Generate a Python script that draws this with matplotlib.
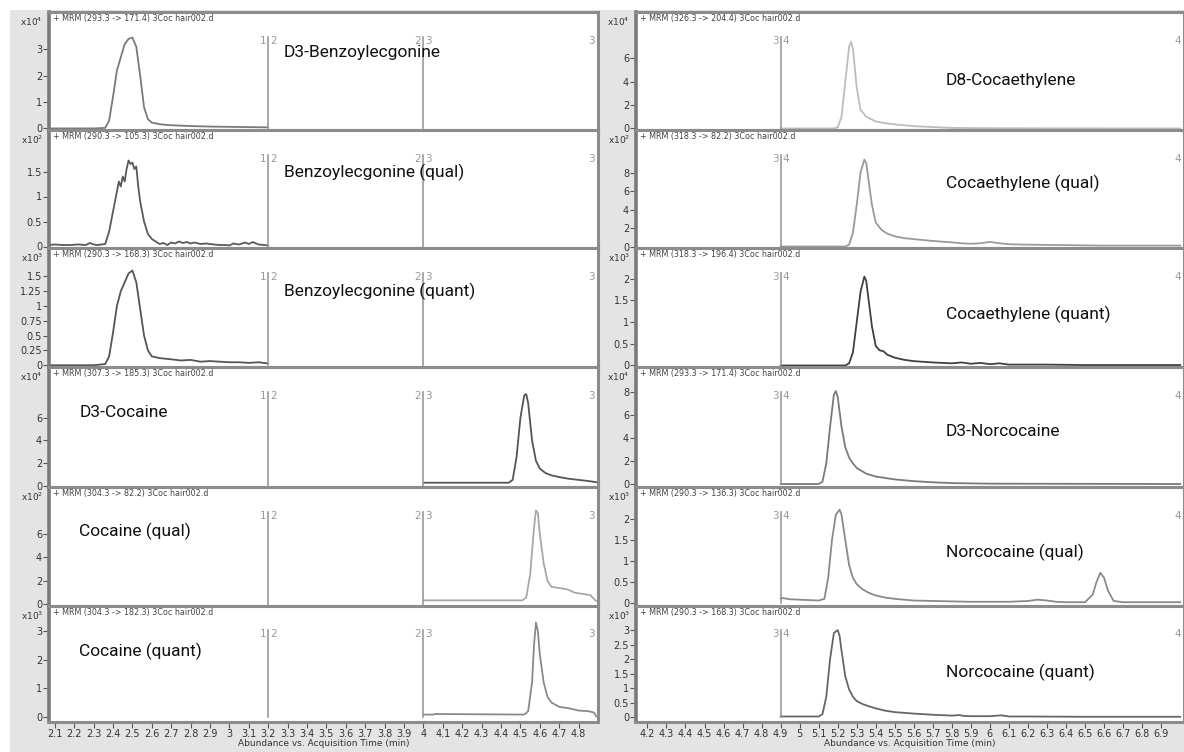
import matplotlib
matplotlib.use('Agg')
import matplotlib.pyplot as plt
from matplotlib.patches import Rectangle

# ---------------- data ----------------
left_xticks = [2.1, 2.2, 2.3, 2.4, 2.5, 2.6, 2.7, 2.8, 2.9, 3.0, 3.1, 3.2, 3.3, 3.4,
               3.5, 3.6, 3.7, 3.8, 3.9, 4.0, 4.1, 4.2, 4.3, 4.4, 4.5, 4.6, 4.7, 4.8]
right_xticks = [4.2, 4.3, 4.4, 4.5, 4.6, 4.7, 4.8, 4.9, 5.0, 5.1, 5.2, 5.3, 5.4, 5.5,
                5.6, 5.7, 5.8, 5.9, 6.0, 6.1, 6.2, 6.3, 6.4, 6.5, 6.6, 6.7, 6.8, 6.9]
xlabel = "Abundance vs. Acquisition Time (min)"

left_names = ["D3-Benzoylecgonine", "Benzoylecgonine (qual)", "Benzoylecgonine (quant)",
              "D3-Cocaine", "Cocaine (qual)", "Cocaine (quant)"]
right_names = ["D8-Cocaethylene", "Cocaethylene (qual)", "Cocaethylene (quant)",
               "D3-Norcocaine", "Norcocaine (qual)", "Norcocaine (quant)"]

left_headers = ["+ MRM (293.3 -> 171.4) 3Coc hair002.d", "+ MRM (290.3 -> 105.3) 3Coc hair002.d",
                "+ MRM (290.3 -> 168.3) 3Coc hair002.d", "+ MRM (307.3 -> 185.3) 3Coc hair002.d",
                "+ MRM (304.3 -> 82.2) 3Coc hair002.d", "+ MRM (304.3 -> 182.3) 3Coc hair002.d"]
right_headers = ["+ MRM (326.3 -> 204.4) 3Coc hair002.d", "+ MRM (318.3 -> 82.2) 3Coc hair002.d",
                 "+ MRM (318.3 -> 196.4) 3Coc hair002.d", "+ MRM (293.3 -> 171.4) 3Coc hair002.d",
                 "+ MRM (290.3 -> 136.3) 3Coc hair002.d", "+ MRM (290.3 -> 168.3) 3Coc hair002.d"]

left_exps = [4, 2, 3, 4, 2, 3]
right_exps = [4, 2, 3, 4, 3, 3]

left_yticks = [[0, 1, 2, 3], [0, 0.5, 1, 1.5], [0, 0.25, 0.5, 0.75, 1, 1.25, 1.5],
               [0, 2, 4, 6], [0, 2, 4, 6], [0, 1, 2, 3]]
right_yticks = [[0, 2, 4, 6], [0, 2, 4, 6, 8], [0, 0.5, 1, 1.5, 2],
                [0, 2, 4, 6, 8], [0, 0.5, 1, 1.5, 2], [0, 0.5, 1, 1.5, 2, 2.5, 3]]

left_ylims = [(-0.06, 4.42), (-0.03, 2.33), (-0.03, 1.98), (-0.13, 10.5), (-0.13, 10.0), (-0.18, 3.88)]
right_ylims = [(-0.13, 9.95), (-0.16, 12.6), (-0.035, 2.71), (-0.26, 10.2), (-0.07, 2.76), (-0.17, 3.83)]

left_seg_bounds = [3.2, 4.0]
left_seg_labels = [("1", "2"), ("2", "3")]
left_end_label = "3"
right_seg_bounds = [4.9]
right_seg_labels = [("3", "4")]
right_end_label = "4"

# traces (time in min, abundance in units of the panel's x10^n)
be_d3_t = [2.07, 2.30, 2.36, 2.38, 2.40, 2.42, 2.44, 2.46, 2.48, 2.50, 2.52, 2.54, 2.56, 2.58,
           2.60, 2.65, 2.70, 2.80, 2.90, 3.00, 3.10, 3.20]
be_d3_v = [0.00, 0.00, 0.02, 0.30, 1.20, 2.20, 2.70, 3.20, 3.40, 3.45, 3.10, 2.00, 0.80, 0.35,
           0.22, 0.15, 0.12, 0.09, 0.07, 0.06, 0.05, 0.04]

be_qual_t = [2.07, 2.10, 2.14, 2.18, 2.22, 2.26, 2.28, 2.30, 2.32, 2.36, 2.38, 2.40, 2.42, 2.43,
             2.44, 2.45, 2.46, 2.47, 2.48, 2.49, 2.50, 2.51, 2.52, 2.53, 2.54, 2.56, 2.58, 2.60,
             2.62, 2.64, 2.66, 2.68, 2.70, 2.72, 2.74, 2.76, 2.78, 2.80, 2.82, 2.85, 2.88, 2.92,
             2.95, 2.98, 3.00, 3.02, 3.05, 3.08, 3.10, 3.12, 3.15, 3.18, 3.20]
be_qual_v = [0.03, 0.04, 0.03, 0.03, 0.04, 0.03, 0.07, 0.04, 0.03, 0.05, 0.30, 0.70, 1.10, 1.30,
             1.20, 1.40, 1.30, 1.55, 1.72, 1.65, 1.68, 1.55, 1.60, 1.20, 0.90, 0.50, 0.25, 0.15,
             0.10, 0.05, 0.07, 0.03, 0.08, 0.06, 0.10, 0.07, 0.09, 0.06, 0.08, 0.05, 0.06, 0.04,
             0.03, 0.03, 0.02, 0.06, 0.04, 0.08, 0.05, 0.09, 0.04, 0.03, 0.02]

be_quant_t = [2.07, 2.30, 2.36, 2.38, 2.40, 2.42, 2.44, 2.46, 2.48, 2.50, 2.52, 2.54, 2.56, 2.58,
              2.60, 2.64, 2.70, 2.75, 2.80, 2.85, 2.90, 2.95, 3.00, 3.05, 3.10, 3.15, 3.20]
be_quant_v = [0.00, 0.00, 0.02, 0.15, 0.55, 1.00, 1.25, 1.40, 1.55, 1.60, 1.40, 0.95, 0.50, 0.25,
              0.15, 0.12, 0.10, 0.08, 0.09, 0.06, 0.07, 0.06, 0.05, 0.05, 0.04, 0.05, 0.03]

coc_d3_t = [4.00, 4.44, 4.46, 4.48, 4.50, 4.52, 4.53, 4.54, 4.56, 4.58, 4.60, 4.63, 4.66, 4.70,
            4.75, 4.80, 4.85, 4.89]
coc_d3_v = [0.25, 0.25, 0.50, 2.50, 6.00, 8.00, 8.10, 7.30, 4.00, 2.20, 1.50, 1.10, 0.90, 0.75,
            0.60, 0.50, 0.40, 0.30]

coc_qual_t = [4.00, 4.51, 4.53, 4.55, 4.57, 4.58, 4.59, 4.60, 4.62, 4.64, 4.66, 4.70, 4.74, 4.78,
              4.82, 4.86, 4.89]
coc_qual_v = [0.35, 0.35, 0.60, 2.50, 6.50, 8.00, 7.80, 6.00, 3.50, 2.00, 1.50, 1.40, 1.30, 1.00,
              0.90, 0.80, 0.30]

coc_quant_t = [4.00, 4.05, 4.06, 4.52, 4.54, 4.56, 4.57, 4.58, 4.59, 4.60, 4.62, 4.64, 4.66, 4.70,
               4.75, 4.80, 4.85, 4.88, 4.89]
coc_quant_v = [0.08, 0.08, 0.10, 0.08, 0.20, 1.20, 2.50, 3.30, 3.00, 2.20, 1.20, 0.70, 0.50, 0.35,
               0.30, 0.22, 0.20, 0.15, 0.02]

ce_d8_t = [4.90, 5.18, 5.20, 5.22, 5.24, 5.26, 5.27, 5.28, 5.30, 5.32, 5.35, 5.40, 5.45, 5.50,
           5.60, 5.70, 5.80, 6.00, 7.00]
ce_d8_v = [0.00, 0.00, 0.10, 1.00, 4.00, 7.00, 7.40, 6.80, 3.50, 1.60, 1.00, 0.60, 0.45, 0.35,
           0.20, 0.12, 0.05, 0.02, 0.00]

ce_qual_t = [4.90, 5.24, 5.26, 5.28, 5.30, 5.32, 5.34, 5.35, 5.36, 5.38, 5.40, 5.43, 5.46, 5.50,
             5.55, 5.60, 5.70, 5.80, 5.85, 5.90, 5.95, 6.00, 6.05, 6.10, 6.20, 6.40, 6.60, 6.80, 7.00]
ce_qual_v = [0.00, 0.00, 0.20, 1.50, 4.50, 8.00, 9.40, 9.00, 7.50, 4.50, 2.60, 1.80, 1.40, 1.10,
             0.90, 0.80, 0.60, 0.45, 0.35, 0.30, 0.35, 0.50, 0.35, 0.25, 0.20, 0.15, 0.10, 0.10, 0.10]

ce_quant_t = [4.90, 5.24, 5.26, 5.28, 5.30, 5.32, 5.34, 5.35, 5.36, 5.38, 5.40, 5.42, 5.44, 5.46,
              5.50, 5.55, 5.60, 5.70, 5.80, 5.85, 5.90, 5.95, 6.00, 6.05, 6.10, 6.30, 6.50, 7.00]
ce_quant_v = [0.00, 0.00, 0.05, 0.30, 1.00, 1.70, 2.05, 1.95, 1.60, 0.90, 0.45, 0.35, 0.33, 0.25,
              0.18, 0.13, 0.10, 0.07, 0.05, 0.07, 0.04, 0.06, 0.03, 0.05, 0.02, 0.02, 0.01, 0.01]

nc_d3_t = [4.90, 5.10, 5.12, 5.14, 5.16, 5.18, 5.19, 5.20, 5.22, 5.24, 5.26, 5.28, 5.30, 5.35,
           5.40, 5.50, 5.60, 5.70, 5.80, 6.00, 7.00]
nc_d3_v = [0.00, 0.00, 0.20, 1.80, 5.00, 7.80, 8.10, 7.60, 5.00, 3.20, 2.30, 1.80, 1.40, 0.90,
           0.65, 0.40, 0.25, 0.15, 0.08, 0.03, 0.00]

nc_qual_t = [4.90, 4.91, 4.95, 5.00, 5.05, 5.10, 5.13, 5.15, 5.17, 5.19, 5.21, 5.22, 5.24, 5.26,
             5.28, 5.30, 5.33, 5.36, 5.40, 5.45, 5.50, 5.60, 5.70, 5.80, 5.90, 6.00, 6.10, 6.20,
             6.25, 6.30, 6.35, 6.40, 6.50, 6.54, 6.56, 6.58, 6.60, 6.62, 6.65, 6.70, 6.80, 7.00]
nc_qual_v = [0.10, 0.12, 0.09, 0.08, 0.07, 0.06, 0.10, 0.60, 1.50, 2.10, 2.22, 2.10, 1.50, 0.90,
             0.60, 0.45, 0.33, 0.25, 0.18, 0.13, 0.10, 0.06, 0.05, 0.04, 0.03, 0.03, 0.03, 0.05,
             0.08, 0.06, 0.03, 0.02, 0.02, 0.20, 0.50, 0.72, 0.60, 0.30, 0.05, 0.02, 0.02, 0.02]

nc_quant_t = [4.90, 5.10, 5.12, 5.14, 5.16, 5.18, 5.20, 5.21, 5.22, 5.24, 5.26, 5.28, 5.30, 5.33,
              5.36, 5.40, 5.45, 5.50, 5.60, 5.70, 5.80, 5.84, 5.86, 5.90, 6.00, 6.06, 6.08, 6.10,
              6.20, 6.50, 7.00]
nc_quant_v = [0.02, 0.02, 0.10, 0.70, 2.00, 2.90, 3.00, 2.80, 2.30, 1.40, 0.95, 0.70, 0.55, 0.45,
              0.38, 0.30, 0.22, 0.17, 0.12, 0.08, 0.05, 0.07, 0.04, 0.03, 0.03, 0.06, 0.04, 0.02,
              0.02, 0.01, 0.01]

left_traces = [(be_d3_t, be_d3_v), (be_qual_t, be_qual_v), (be_quant_t, be_quant_v),
               (coc_d3_t, coc_d3_v), (coc_qual_t, coc_qual_v), (coc_quant_t, coc_quant_v)]
right_traces = [(ce_d8_t, ce_d8_v), (ce_qual_t, ce_qual_v), (ce_quant_t, ce_quant_v),
                (nc_d3_t, nc_d3_v), (nc_qual_t, nc_qual_v), (nc_quant_t, nc_quant_v)]

left_colors = ['#7a7a7a', '#5a5a5a', '#555555', '#555555', '#a8a8a8', '#8a8a8a']
right_colors = ['#bdbdbd', '#9a9a9a', '#404040', '#7a7a7a', '#8a8a8a', '#666666']

# ---------------- layout ----------------
W, H = 1184, 752
fig = plt.figure(figsize=(W / 100, H / 100), dpi=100)
fig.patch.set_facecolor('white')
fig.patches.append(Rectangle((10 / W, 0), 1 - 10 / W, 1 - 10 / H, transform=fig.transFigure,
                             facecolor='#e4e4e4', edgecolor='none', zorder=-10))

row_edges = [12, 130, 248, 367, 487, 606, 722]
columns = [
    dict(x0=49, x1=598, xlim=(2.07, 4.90), xticks=left_xticks, names=left_names,
         headers=left_headers, exps=left_exps, yticks=left_yticks, ylims=left_ylims,
         traces=left_traces, colors=left_colors, bounds=left_seg_bounds,
         seglabels=left_seg_labels, endlabel=left_end_label,
         name_pos=[(0.428, 0.655), (0.428, 0.645), (0.428, 0.635), (0.055, 0.62), (0.055, 0.63), (0.055, 0.61)]),
    dict(x0=636, x1=1184, xlim=(4.14, 7.02), xticks=right_xticks, names=right_names,
         headers=right_headers, exps=right_exps, yticks=right_yticks, ylims=right_ylims,
         traces=right_traces, colors=right_colors, bounds=right_seg_bounds,
         seglabels=right_seg_labels, endlabel=right_end_label,
         name_pos=[(0.565, 0.42), (0.565, 0.55), (0.565, 0.44), (0.565, 0.46), (0.565, 0.45), (0.565, 0.43)]),
]

spine_col = '#8c8c8c'
name_font = ['Roboto', 'DejaVu Sans']

for col in columns:
    x0, x1 = col['x0'], col['x1']
    for r in range(6):
        y0, y1 = row_edges[r], row_edges[r + 1]
        ax = fig.add_axes([x0 / W, 1 - y1 / H, (x1 - x0) / W, (y1 - y0) / H])
        ax.set_facecolor('white')
        for s in ax.spines.values():
            s.set_color(spine_col)
            s.set_linewidth(2.2)
        ax.spines['left'].set_linewidth(2.6)
        ax.spines['left'].set_color('#7a7a7a')
        ax.set_xlim(*col['xlim'])
        ax.set_ylim(*col['ylims'][r])
        ax.set_yticks(col['yticks'][r])
        ax.set_yticklabels(['{:g}'.format(v) for v in col['yticks'][r]])
        ax.tick_params(axis='y', direction='out', length=4, width=0.8, color='#555555',
                       labelsize=7, labelcolor='#333333', pad=1)
        ax.set_xticks(col['xticks'])
        if r == 5:
            ax.set_xticklabels(['{:g}'.format(v) for v in col['xticks']])
            ax.tick_params(axis='x', direction='out', length=4, width=0.8, color='#555555',
                           labelsize=7, labelcolor='#333333', pad=1)
            ax.set_xlabel(xlabel, fontsize=6.5, color='#333333', labelpad=0)
        else:
            ax.tick_params(axis='x', length=0, labelbottom=False)

        t, v = col['traces'][r]
        ax.plot(t, v, color=col['colors'][r], lw=1.3, solid_joinstyle='round')

        ymin, ymax = col['ylims'][r]
        ytop = ymin + 0.79 * (ymax - ymin)
        ylab = ymin + 0.755 * (ymax - ymin)
        for b, (la, lb) in zip(col['bounds'], col['seglabels']):
            ax.plot([b, b], [0, ytop], color='#999999', lw=1.2)
            ax.text(b - 0.011, ylab, la, ha='right', va='center', fontsize=7.5, color='#999999')
            ax.text(b + 0.011, ylab, lb, ha='left', va='center', fontsize=7.5, color='#999999')
        ax.text(0.995, 0.755, col['endlabel'], transform=ax.transAxes, ha='right', va='center',
                fontsize=7.5, color='#999999')

        ax.text(0.008, 0.985, col['headers'][r], transform=ax.transAxes, ha='left', va='top',
                fontsize=5.8, color='#444444')
        nx, ny = col['name_pos'][r]
        ax.text(nx, ny, col['names'][r], transform=ax.transAxes, ha='left', va='center',
                fontsize=12.5, color='#111111', family=name_font)

        fig.text((x0 - 6) / W, 1 - (y0 + 10) / H, 'x10$^{%d}$' % col['exps'][r], ha='right',
                 va='center', fontsize=6.5, color='#333333')

fig.savefig('out.png', dpi=100, facecolor=fig.get_facecolor())
